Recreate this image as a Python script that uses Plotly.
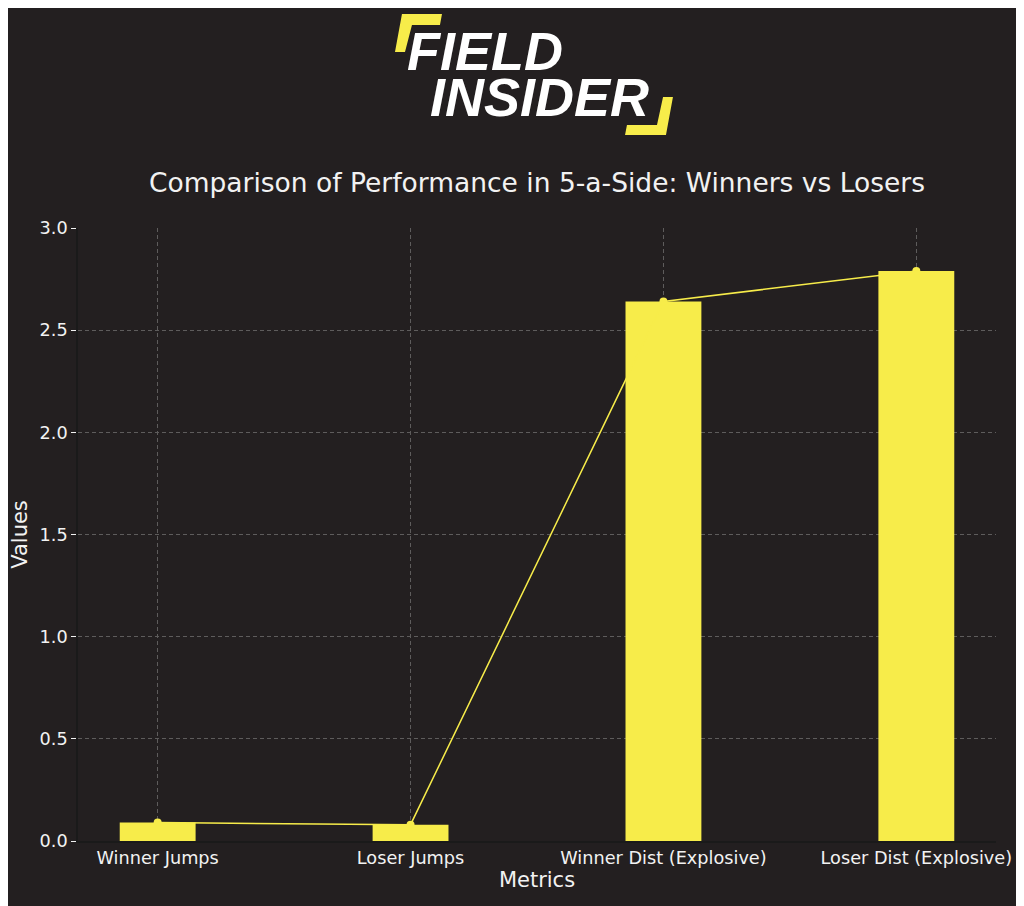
import plotly.graph_objects as go

# chart data
metrics = ["Winner Jumps", "Loser Jumps", "Winner Dist (Explosive)", "Loser Dist (Explosive)"]
values = [0.09, 0.08, 2.64, 2.79]
y_ticks = [0.0, 0.5, 1.0, 1.5, 2.0, 2.5, 3.0]

BG = "#231f20"
YELLOW = "#f7ec4a"
TEXT = "#f2f2f2"
GRID = "#5e5c5c"

# the page body has an 8px margin, so the figure is shifted by that much
OFF = 8
W, H = 1024 - OFF, 906 - OFF
M_L, M_R, M_T, M_B = 78 - OFF, 28, 228 - OFF, 65
PLOT_W = W - M_L - M_R
PLOT_H = H - M_T - M_B


def px_to_paper(x, y):
    # page pixels -> paper coords, used only for the logo decoration
    return (x - OFF - M_L) / PLOT_W, (H - M_B - (y - OFF)) / PLOT_H


def poly_path(points):
    pts = [px_to_paper(x, y) for x, y in points]
    return "M " + " L ".join(f"{px:.4f},{py:.4f}" for px, py in pts) + " Z"


fig = go.Figure()
fig.add_trace(go.Bar(
    x=list(range(len(metrics))), y=values, width=0.3,
    marker=dict(color=YELLOW, line=dict(width=0)),
    hoverinfo="skip",
))
fig.add_trace(go.Scatter(
    x=list(range(len(metrics))), y=values, mode="lines+markers",
    line=dict(color=YELLOW, width=1.5),
    marker=dict(color=YELLOW, size=8),
))

# --- logo (brackets + wordmark) ---
bracket_tl = [(402, 14), (442, 14), (440, 25), (412, 25), (405, 52), (395, 52)]
bracket_br = [(663, 97), (673, 97), (666, 135), (625, 135), (627, 125), (657, 125)]
for pts in (bracket_tl, bracket_br):
    fig.add_shape(type="path", path=poly_path(pts), xref="paper", yref="paper",
                  fillcolor=YELLOW, line=dict(width=0), layer="above")

logo_font = dict(family="Liberation Sans", size=54, color="white", weight="bold", style="italic")
for word, cx, cy in (("FIELD", 485, 51), ("INSIDER", 539, 97)):
    px, py = px_to_paper(cx, cy)
    fig.add_annotation(text=word, x=px, y=py, xref="paper", yref="paper",
                       xanchor="center", yanchor="middle", showarrow=False,
                       height=40, font=logo_font)

fig.update_layout(
    width=W, height=H,
    margin=dict(l=M_L, r=M_R, t=M_T, b=M_B),
    paper_bgcolor=BG, plot_bgcolor=BG,
    showlegend=False,
    font=dict(family="DejaVu Sans", color=TEXT, size=17.7),
    title=dict(text="Comparison of Performance in 5-a-Side: Winners vs Losers",
               x=(M_L + PLOT_W / 2) / W, xanchor="center",
               y=1 - (183 - OFF) / H, yanchor="middle",
               font=dict(size=26.5, color=TEXT)),
)
fig.update_xaxes(
    tickmode="array", tickvals=list(range(len(metrics))), ticktext=metrics,
    range=[-0.315, 3.315], automargin=False,
    showgrid=True, gridcolor=GRID, griddash="4px,3px", gridwidth=1,
    showline=True, linecolor="#1a1a1a", linewidth=1.5,
    ticks="", zeroline=False,
    title=dict(text="Metrics", font=dict(size=21), standoff=0),
)
fig.update_yaxes(
    tickmode="array", tickvals=y_ticks, ticktext=[f"{v:.1f}" for v in y_ticks],
    range=[0, 3.0], automargin=False,
    showgrid=True, gridcolor=GRID, griddash="4px,3px", gridwidth=1,
    showline=True, linecolor="#1a1a1a", linewidth=1.5,
    ticks="outside", ticklen=5, tickcolor=TEXT, zeroline=False,
    title=dict(text="Values", font=dict(size=21), standoff=6),
)

fig.write_html("out.html")
